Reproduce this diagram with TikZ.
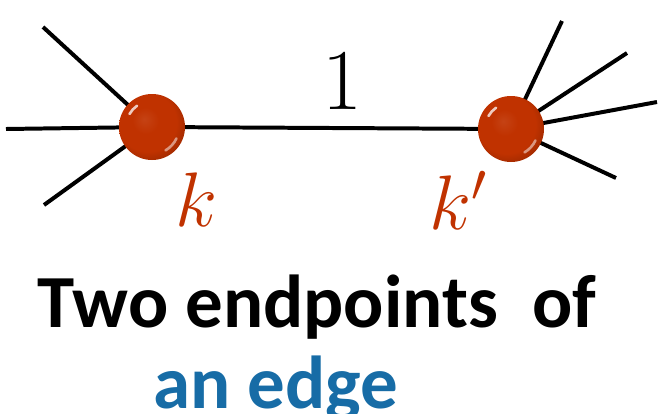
\RequirePackage{fix-cm}
\documentclass[tikz,border=0pt]{standalone}
\usepackage{fontspec}
\setsansfont{Carlito}
\usepackage{xcolor}
\usepackage{tikz}
\usetikzlibrary{shadings}

\definecolor{vertexred}{RGB}{192,50,0}
\definecolor{edgeblue}{RGB}{23,108,166}

\pgfdeclareradialshading{vertexshade}{\pgfpoint{-6bp}{6bp}}{%
  color(0bp)=(vertexred!92!white); color(10bp)=(vertexred); color(22bp)=(vertexred);
  color(29bp)=(vertexred!85!black); color(50bp)=(vertexred!80!black)}

\begin{document}
\begin{tikzpicture}[
    x=0.03cm, y=-0.03cm,
    vertexball/.style={circle, minimum size=66*0.03cm, inner sep=0pt, shading=vertexshade},
    glint/.style={white, line width=2.2pt, line cap=round, opacity=0.75},
    spoke/.style={line width=3.4pt, black},
    labeltext/.style={font=\fontsize{66}{70}\selectfont, text=vertexred},
    captiontext/.style={font=\sffamily\bfseries\fontsize{64}{70}\selectfont, anchor=base}
]
\useasboundingbox (0,0) rectangle (664,413);

% spoke ends
\coordinate (l1) at (43,27);
\coordinate (l2) at (6,129);
\coordinate (l3) at (44,205);
\coordinate (r1) at (562,21);
\coordinate (r2) at (627,53);
\coordinate (r3) at (657,102);
\coordinate (r4) at (616,178);

\coordinate (kc) at (152,127);
\coordinate (kpc) at (511,129);

\draw[spoke] (kc) -- (kpc);
\foreach \e in {l1,l2,l3} \draw[spoke] (kc) -- (\e);
\foreach \e in {r1,r2,r3,r4} \draw[spoke] (kpc) -- (\e);

\node[vertexball] (k) at (kc) {};
\node[vertexball] (kp) at (kpc) {};

% glints on the balls
\foreach \b in {k,kp} {
  \draw[glint] ([shift={(125:26*0.03cm)}]\b.center) arc[start angle=125, end angle=150, radius=26*0.03cm];
  \draw[glint, opacity=0.5] ([shift={(-25:27*0.03cm)}]\b.center) arc[start angle=-25, end angle=-60, radius=27*0.03cm];
}

\node at (342,82) (one) {\fontsize{74}{78}\selectfont $1$};
\node[labeltext] at (196,200) (klab) {$k$};
\node[labeltext] at (458,200) (kplab) {$k'$};

\node[captiontext] at (317,327) (cap1) {Two endpoints\ \ of};
\node[captiontext, text=edgeblue] at (276,408) (cap2) {an edge};
\end{tikzpicture}
\end{document}
